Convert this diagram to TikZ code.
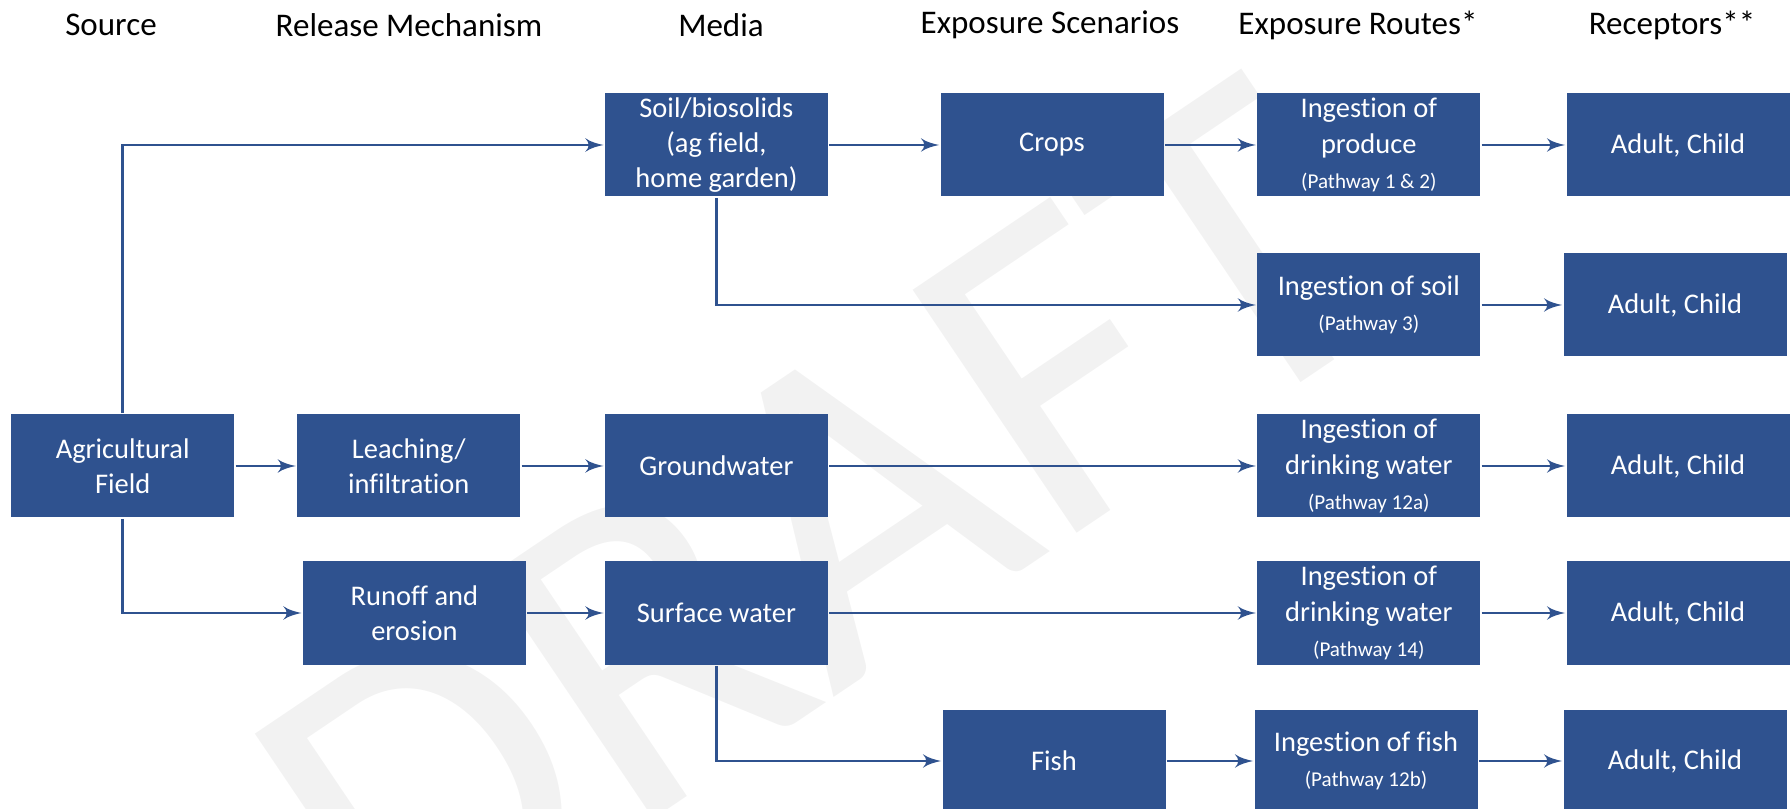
\documentclass[tikz,border=0pt]{standalone}
\usepackage{fontspec}
\setmainfont{Carlito}[Ligatures=CommonOff]
\usetikzlibrary{arrows}
\definecolor{boxblue}{RGB}{47,82,143}
\newcommand{\pw}[1]{{\fontsize{6}{7}\selectfont(#1)}}

\begin{document}
\begin{tikzpicture}[->,>=latex',line width=0.8pt]
  \tikzstyle{block}=[fill=boxblue,text=white,minimum width=2.23cm,minimum height=1.03cm,align=center,inner sep=0pt,font=\fontsize{8.1}{10}\selectfont]
  \tikzstyle{head}=[text=black,font=\fontsize{9.4}{11}\selectfont]
  \tikzstyle{link}=[draw=boxblue]
  \useasboundingbox (0,0) rectangle (17.9,-8.09);

  % watermark
  \node[text=black!5,font=\fontsize{130}{130}\selectfont,rotate=34] (wm) at (8.2,-5.3) {DRAFT};

  % column headings
  \node[head] (hsrc)  at (1.11,-0.25)  {Source};
  \node[head] (hrel)  at (4.09,-0.25)  {Release Mechanism};
  \node[head] (hmed)  at (7.21,-0.25)  {Media};
  \node[head] (hscn)  at (10.50,-0.25) {Exposure Scenarios};
  \node[head] (hrte)  at (13.58,-0.25) {Exposure Routes*};
  \node[head] (hrcp)  at (16.72,-0.25) {Receptors**};

  % source and release
  \node[block] (agri)   at (1.227,-4.66) {Agricultural\\Field};
  \node[block] (leach)  at (4.087,-4.66) {Leaching/\\infiltration};
  \node[block] (runoff) at (4.144,-6.13) {Runoff and\\erosion};

  % media
  \node[block] (soil)    at (7.164,-1.45) {Soil/biosolids\\(ag field,\\home garden)};
  \node[block] (ground)  at (7.164,-4.66) {Groundwater};
  \node[block] (surface) at (7.164,-6.13) {Surface water};

  % scenarios
  \node[block] (crops) at (10.52,-1.45) {Crops};
  \node[block] (fish)  at (10.54,-7.61) {Fish};

  % routes
  \node[block] (ingprod) at (13.688,-1.45) {Ingestion of\\produce\\\pw{Pathway 1 \& 2}};
  \node[block] (ingsoil) at (13.688,-3.05) {Ingestion of soil\\\pw{Pathway 3}};
  \node[block] (ingdwg)  at (13.688,-4.66) {Ingestion of\\drinking water\\\pw{Pathway 12a}};
  \node[block] (ingdws)  at (13.688,-6.13) {Ingestion of\\drinking water\\\pw{Pathway 14}};
  \node[block] (ingfish) at (13.66,-7.61)  {Ingestion of fish\\\pw{Pathway 12b}};

  % receptors
  \node[block] (rcp1) at (16.78,-1.45) {Adult, Child};
  \node[block] (rcp2) at (16.75,-3.05) {Adult, Child};
  \node[block] (rcp3) at (16.78,-4.66) {Adult, Child};
  \node[block] (rcp4) at (16.78,-6.13) {Adult, Child};
  \node[block] (rcp5) at (16.75,-7.61) {Adult, Child};

  \draw[link] (agri.north) |- (soil.west);
  \draw[link] (agri.east) -- (leach.west);
  \draw[link] (agri.south) |- (runoff.west);
  \draw[link] (leach.east) -- (ground.west);
  \draw[link] (runoff.east) -- (surface.west);
  \draw[link] (soil.east) -- (crops.west);
  \draw[link] (soil.south) |- (ingsoil.west);
  \draw[link] (ground.east) -- (ingdwg.west);
  \draw[link] (surface.east) -- (ingdws.west);
  \draw[link] (surface.south) |- (fish.west);
  \draw[link] (crops.east) -- (ingprod.west);
  \draw[link] (fish.east) -- (ingfish.west);
  \draw[link] (ingprod.east) -- (rcp1.west);
  \draw[link] (ingsoil.east) -- (rcp2.west);
  \draw[link] (ingdwg.east) -- (rcp3.west);
  \draw[link] (ingdws.east) -- (rcp4.west);
  \draw[link] (ingfish.east) -- (rcp5.west);
\end{tikzpicture}
\end{document}
